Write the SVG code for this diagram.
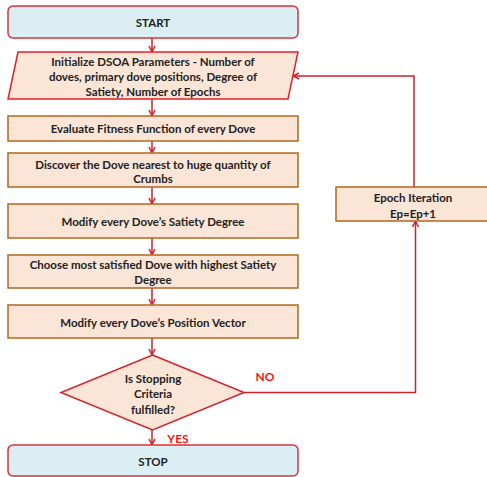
<svg xmlns="http://www.w3.org/2000/svg" width="487" height="477" viewBox="0 0 487 477">
<defs>
<marker id="ah" markerWidth="8" markerHeight="8" refX="7" refY="4" orient="auto" markerUnits="userSpaceOnUse">
<path d="M1,1 L7,4 L1,7" fill="none" stroke="#D0202A" stroke-width="1.5"/>
</marker>
<style>
.term{fill:#DAEEF3;stroke:#E0303A;stroke-width:1.5}
.proc{fill:#FBE5D6;stroke:#B5651D;stroke-width:1.5}
.io{fill:#FBE5D6;stroke:#E0202A;stroke-width:1.5}
.dec{fill:#FBE5D6;stroke:#D8202A;stroke-width:1.5}
text{font-family:"Lato","Liberation Sans",sans-serif;font-weight:bold;font-size:11.5px;fill:#222;text-anchor:middle;dominant-baseline:central}
.lbl{fill:#FF1010;font-size:12px}
.conn{fill:none;stroke:#D0202A;stroke-width:1.5}
</style>
</defs>
<rect width="487" height="477" fill="#fff"/>
<g id="connectors">
<line class="conn" x1="152" y1="38" x2="152" y2="52" marker-end="url(#ah)"/>
<line class="conn" x1="152" y1="99" x2="152" y2="116" marker-end="url(#ah)"/>
<line class="conn" x1="152" y1="141" x2="152" y2="153" marker-end="url(#ah)"/>
<line class="conn" x1="152" y1="187" x2="152" y2="204" marker-end="url(#ah)"/>
<line class="conn" x1="152" y1="238" x2="152" y2="255" marker-end="url(#ah)"/>
<line class="conn" x1="152" y1="288" x2="152" y2="305" marker-end="url(#ah)"/>
<line class="conn" x1="152" y1="338" x2="152" y2="355" marker-end="url(#ah)"/>
<line class="conn" x1="152" y1="430" x2="152" y2="445" marker-end="url(#ah)"/>
<polyline class="conn" points="244,392.5 415.5,392.5 415.5,221" marker-end="url(#ah)"/>
<polyline class="conn" points="414,187 414,76 293,76" marker-end="url(#ah)"/>
<text class="lbl" x="178" y="438">YES</text>
<text class="lbl" x="265" y="376">NO</text>
</g>
<g id="start">
<rect class="term" x="8" y="6" width="290" height="32" rx="5"/>
<text x="153" y="22">START</text>
</g>
<g id="init">
<polygon class="io" points="18,52 298,52 288,99 8,99"/>
<text x="153" y="61">Initialize DSOA Parameters - Number of</text>
<text x="153" y="76">doves, primary dove positions, Degree of</text>
<text x="153" y="91">Satiety, Number of Epochs</text>
</g>
<g id="evaluate">
<rect class="proc" x="8" y="116" width="290" height="25"/>
<text x="153" y="128.5">Evaluate Fitness Function of every Dove</text>
</g>
<g id="discover">
<rect class="proc" x="8" y="153" width="290" height="34"/>
<text x="153" y="164">Discover the Dove nearest to huge quantity of</text>
<text x="153" y="178">Crumbs</text>
</g>
<g id="satiety">
<rect class="proc" x="8" y="204" width="290" height="34"/>
<text x="153" y="221">Modify every Dove’s Satiety Degree</text>
</g>
<g id="choose">
<rect class="proc" x="8" y="255" width="290" height="33"/>
<text x="153" y="264">Choose most satisfied Dove with highest Satiety</text>
<text x="153" y="279">Degree</text>
</g>
<g id="position">
<rect class="proc" x="8" y="305" width="290" height="33"/>
<text x="153" y="322">Modify every Dove’s Position Vector</text>
</g>
<g id="decision">
<polygon class="dec" points="152.5,355 244,392.5 152.5,430 61,392.5"/>
<text x="153" y="378">Is Stopping</text>
<text x="153" y="393">Criteria</text>
<text x="153" y="409">fulfilled?</text>
</g>
<g id="epoch">
<rect class="proc" x="336" y="187" width="154" height="34"/>
<text x="413" y="197">Epoch Iteration</text>
<text x="413" y="213">Ep=Ep+1</text>
</g>
<g id="stop">
<rect class="term" x="8" y="445" width="290" height="31" rx="5"/>
<text x="153" y="461">STOP</text>
</g>
</svg>
